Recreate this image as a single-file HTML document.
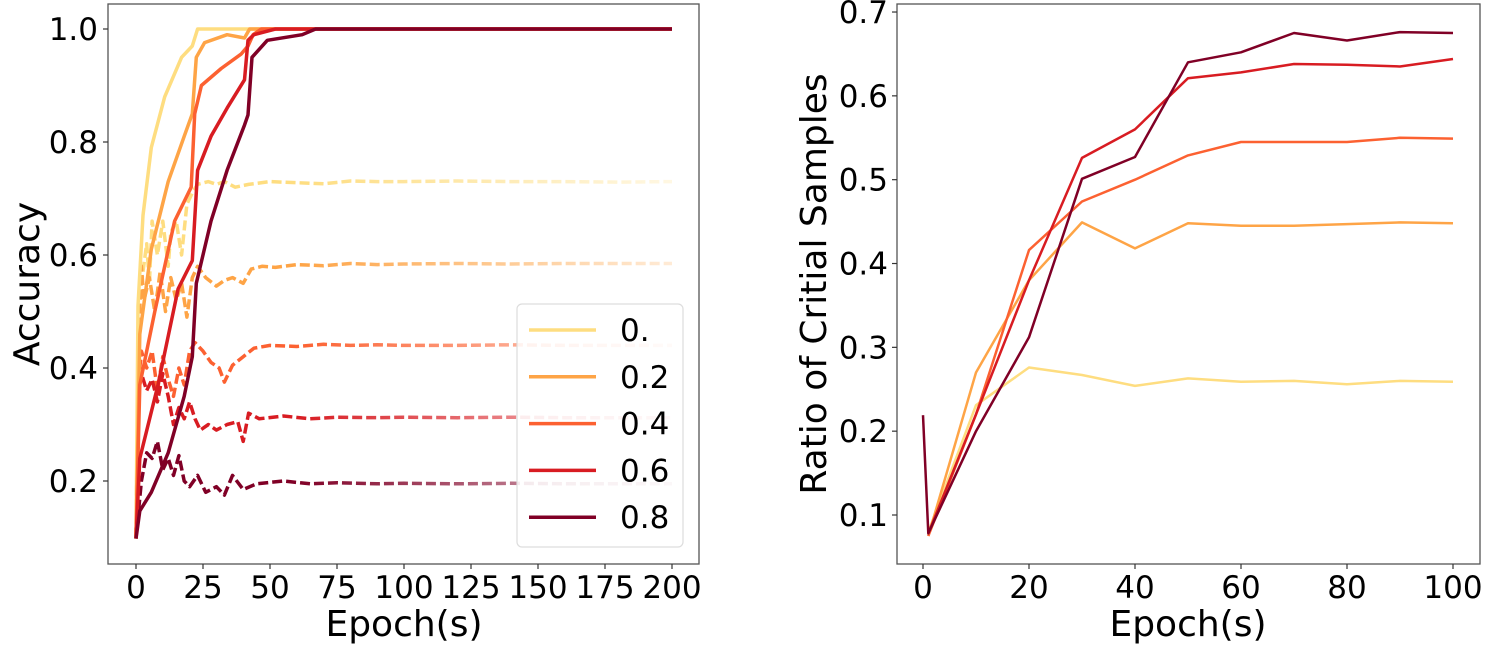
<!DOCTYPE html>
<html><head><meta charset="utf-8"><style>
html,body{margin:0;padding:0;background:#fff;}
svg{display:block;font-family:"DejaVu Sans","Liberation Sans",sans-serif;}
</style></head><body>
<svg id="chart" width="1492" height="653" viewBox="0 0 1492 653" xmlns="http://www.w3.org/2000/svg">
<defs id="defs"></defs>
<g id="left"></g>
<g id="right"></g>
</svg>
<script>
// ---- Left chart data (epochs, accuracy) ----
const noiseLevels = ["0.", "0.2", "0.4", "0.6", "0.8"];
const colors = ["#fedd80", "#fea446", "#fc6131", "#d81c22", "#800026"];
const leftXTicks = [0, 25, 50, 75, 100, 125, 150, 175, 200];
const leftYTicks = [0.2, 0.4, 0.6, 0.8, 1.0];
const trainEp0 = [0,0.75,2.6,5.7,10.7,17,21,23,200];
const trainAcc0 = [0.098,0.51,0.67,0.79,0.88,0.95,0.97,1.0,1.0];
const trainEp2 = [0,1.4,5.7,12,18,21,22.5,25.6,34,40.5,42.4,200];
const trainAcc2 = [0.098,0.46,0.61,0.73,0.81,0.85,0.95,0.976,0.99,0.984,1.0,1.0];
const trainEp4 = [0,1.4,7,14.4,20.6,21.9,24.4,31.8,39.3,41.8,43.7,46.8,200];
const trainAcc4 = [0.098,0.37,0.5,0.66,0.72,0.85,0.9,0.93,0.956,0.97,0.99,1.0,1.0];
const trainEp6 = [0,1.4,8.2,15.7,21,23,28,34,40.5,41.8,44,52,200];
const trainAcc6 = [0.098,0.24,0.37,0.54,0.59,0.75,0.81,0.86,0.91,0.98,0.99,1.0,1.0];
const trainEp8 = [0,1.4,5.7,12,18,21,22.5,28,34,40.5,41.8,43.3,49,62,67,200];
const trainAcc8 = [0.098,0.147,0.18,0.25,0.35,0.42,0.55,0.66,0.75,0.83,0.848,0.95,0.98,0.99,1.0,1.0];
const testEp0 = [0,1,2,4,5,6,8,10,12,13,15,17,19,21,23,27,30,33,37,42,50,60,70,80,90,100,120,140,160,180,200];
const testAcc0 = [0.1,0.5,0.55,0.62,0.55,0.66,0.6,0.66,0.58,0.64,0.66,0.6,0.69,0.71,0.725,0.73,0.725,0.73,0.72,0.725,0.73,0.728,0.726,0.731,0.73,0.73,0.731,0.73,0.73,0.729,0.73];
const testEp2 = [0,1,2,3,5,7,9,11,13,15,17,19,21,23,26,30,33,36,40,43,47,52,60,70,80,90,100,120,140,160,180,200];
const testAcc2 = [0.1,0.45,0.58,0.52,0.56,0.5,0.57,0.5,0.56,0.52,0.55,0.49,0.56,0.58,0.56,0.545,0.555,0.56,0.55,0.575,0.58,0.578,0.583,0.581,0.585,0.583,0.584,0.585,0.584,0.585,0.585,0.585];
const testEp4 = [0,1,2,4,6,8,10,12,14,16,18,20,22,25,28,31,33,36,40,44,50,60,70,80,90,100,120,140,160,180,200];
const testAcc4 = [0.1,0.38,0.43,0.4,0.43,0.36,0.42,0.38,0.35,0.4,0.37,0.43,0.445,0.43,0.41,0.4,0.375,0.405,0.42,0.435,0.44,0.438,0.442,0.44,0.441,0.44,0.44,0.441,0.44,0.44,0.44];
const testEp6 = [0,1,2,4,6,8,10,12,14,16,18,20,22,24,27,30,34,38,40,42,46,55,65,75,90,100,120,140,160,180,200];
const testAcc6 = [0.1,0.36,0.39,0.36,0.38,0.34,0.39,0.35,0.3,0.33,0.31,0.34,0.31,0.29,0.3,0.29,0.3,0.305,0.27,0.32,0.31,0.315,0.31,0.313,0.312,0.313,0.312,0.313,0.312,0.312,0.312];
const testEp8 = [0,2,4,6,8,10,12,14,16,18,20,23,26,30,33,36,40,45,55,65,75,90,100,120,140,160,180,200];
const testAcc8 = [0.1,0.2,0.25,0.24,0.27,0.22,0.24,0.21,0.245,0.2,0.19,0.21,0.18,0.19,0.175,0.21,0.185,0.195,0.2,0.195,0.197,0.195,0.196,0.195,0.196,0.195,0.195,0.195];

// ---- Right chart data ----
const rightXTicks = [0, 20, 40, 60, 80, 100];
const rightYTicks = [0.1, 0.2, 0.3, 0.4, 0.5, 0.6, 0.7];
const ratioEpA = [1,10,20,30,40,50,60,70,80,90,100];
const ratio0 = [0.08,0.231,0.276,0.267,0.254,0.263,0.259,0.26,0.256,0.26,0.259];
const ratio2 = [0.075,0.27,0.38,0.449,0.418,0.448,0.445,0.445,0.447,0.449,0.448];
const ratio4 = [0.075,0.22,0.416,0.474,0.5,0.529,0.545,0.545,0.545,0.55,0.549];
const ratio6 = [0.078,0.22,0.38,0.526,0.56,0.621,0.628,0.638,0.637,0.635,0.644];
const ratioEp8 = [0,1,10,20,30,40,50,60,70,80,90,100];
const ratio8 = [0.219,0.078,0.2,0.312,0.501,0.527,0.64,0.652,0.675,0.666,0.676,0.675];

const NS = "http://www.w3.org/2000/svg";
function mk(tag, attrs, parent){const e=document.createElementNS(NS,tag);for(const k in attrs)e.setAttribute(k,attrs[k]);parent.appendChild(e);return e;}

const TICK_FS = 31, TITLE_FS = 36;

// Left axes
const LX = v => 136 + v*2.68;
const LY = v => 29 + (1.0 - v)*565;
const L = document.getElementById('left');
const defs = document.getElementById('defs');

const trainE=[trainEp0,trainEp2,trainEp4,trainEp6,trainEp8];
const trainA=[trainAcc0,trainAcc2,trainAcc4,trainAcc6,trainAcc8];
const testE=[testEp0,testEp2,testEp4,testEp6,testEp8];
const testA=[testAcc0,testAcc2,testAcc4,testAcc6,testAcc8];

for(let i=0;i<5;i++){
  const g=mk('linearGradient',{id:'fade'+i,gradientUnits:'userSpaceOnUse',x1:LX(60),y1:0,x2:LX(200),y2:0},defs);
  mk('stop',{offset:'0','stop-color':colors[i],'stop-opacity':'1'},g);
  mk('stop',{offset:'1','stop-color':colors[i],'stop-opacity':'0.22'},g);
}
for(let i=0;i<5;i++){
  const pts=testE[i].map((e,j)=>LX(e).toFixed(1)+','+LY(testA[i][j]).toFixed(1)).join(' ');
  const p=mk('polyline',{points:pts,fill:'none',stroke:'url(#fade'+i+')','stroke-width':3.5,'stroke-dasharray':'10,4','stroke-linejoin':'round'},L);
  
  
}
for(let i=0;i<5;i++){
  const pts=trainE[i].map((e,j)=>LX(e).toFixed(1)+','+LY(trainA[i][j]).toFixed(1)).join(' ');
  const p=mk('polyline',{points:pts,fill:'none',stroke:colors[i],'stroke-width':3.5,'stroke-linejoin':'round'},L);
  
  
}
const lbox=mk('rect',{x:108,y:4,width:591,height:560,fill:'none',stroke:'#555','stroke-width':1.3},L);


leftXTicks.forEach(t=>{
  mk('line',{x1:LX(t),x2:LX(t),y1:564,y2:569,stroke:'#333','stroke-width':1.2},L);
  const tx=mk('text',{x:LX(t),y:598,'font-size':TICK_FS,'text-anchor':'middle',fill:'#000'},L);
  tx.textContent=t;
  
  
});
leftYTicks.forEach(t=>{
  mk('line',{x1:103,x2:108,y1:LY(t),y2:LY(t),stroke:'#333','stroke-width':1.2},L);
  const tx=mk('text',{x:98,y:LY(t)+11,'font-size':TICK_FS,'text-anchor':'end',fill:'#000'},L);
  tx.textContent=t.toFixed(1);
  
  
});
let t1=mk('text',{x:404,y:636,'font-size':TITLE_FS,'text-anchor':'middle',fill:'#000'},L);
t1.textContent='Epoch(s)';


let t2=mk('text',{x:0,y:0,'font-size':TITLE_FS,'text-anchor':'middle',fill:'#000',transform:'translate(39,284) rotate(-90)'},L);
t2.textContent='Accuracy';


// legend
const lg=mk('g',{},L);


mk('rect',{x:517,y:304,width:166,height:243,rx:5,fill:'#fff','fill-opacity':0.85,stroke:'#ddd','stroke-width':1.2},lg);
noiseLevels.forEach((n,i)=>{
  const y=330+i*46.8;
  const e=mk('g',{},lg);
  
  
  mk('line',{x1:529,x2:596,y1:y,y2:y,stroke:colors[i],'stroke-width':3.5},e);
  const tx=mk('text',{x:620,y:y+11,'font-size':TICK_FS,fill:'#000'},e);
  tx.textContent=n;
});

// Right axes
const RX = v => 923 + v*5.3;
const RY = v => 515 - (v-0.1)*838.3;
const R = document.getElementById('right');
const rE=[ratioEpA,ratioEpA,ratioEpA,ratioEpA,ratioEp8];
const rV=[ratio0,ratio2,ratio4,ratio6,ratio8];
for(let i=0;i<5;i++){
  const pts=rE[i].map((e,j)=>RX(e).toFixed(1)+','+RY(rV[i][j]).toFixed(1)).join(' ');
  const p=mk('polyline',{points:pts,fill:'none',stroke:colors[i],'stroke-width':2.5,'stroke-linejoin':'round'},R);
  
  
}
const rbox=mk('rect',{x:897,y:4,width:583,height:560,fill:'none',stroke:'#555','stroke-width':1.3},R);


rightXTicks.forEach(t=>{
  mk('line',{x1:RX(t),x2:RX(t),y1:564,y2:569,stroke:'#333','stroke-width':1.2},R);
  const tx=mk('text',{x:RX(t),y:598,'font-size':TICK_FS,'text-anchor':'middle',fill:'#000'},R);
  tx.textContent=t;
  
  
});
rightYTicks.forEach(t=>{
  mk('line',{x1:892,x2:897,y1:RY(t),y2:RY(t),stroke:'#333','stroke-width':1.2},R);
  const tx=mk('text',{x:888,y:RY(t)+11,'font-size':TICK_FS,'text-anchor':'end',fill:'#000'},R);
  tx.textContent=t.toFixed(1);
  
  
});
let t3=mk('text',{x:1188,y:636,'font-size':TITLE_FS,'text-anchor':'middle',fill:'#000'},R);
t3.textContent='Epoch(s)';


let t4=mk('text',{x:0,y:0,'font-size':TITLE_FS,'text-anchor':'middle',fill:'#000',transform:'translate(826,284) rotate(-90)'},R);
t4.textContent='Ratio of Critial Samples';


</script>
</body></html>
